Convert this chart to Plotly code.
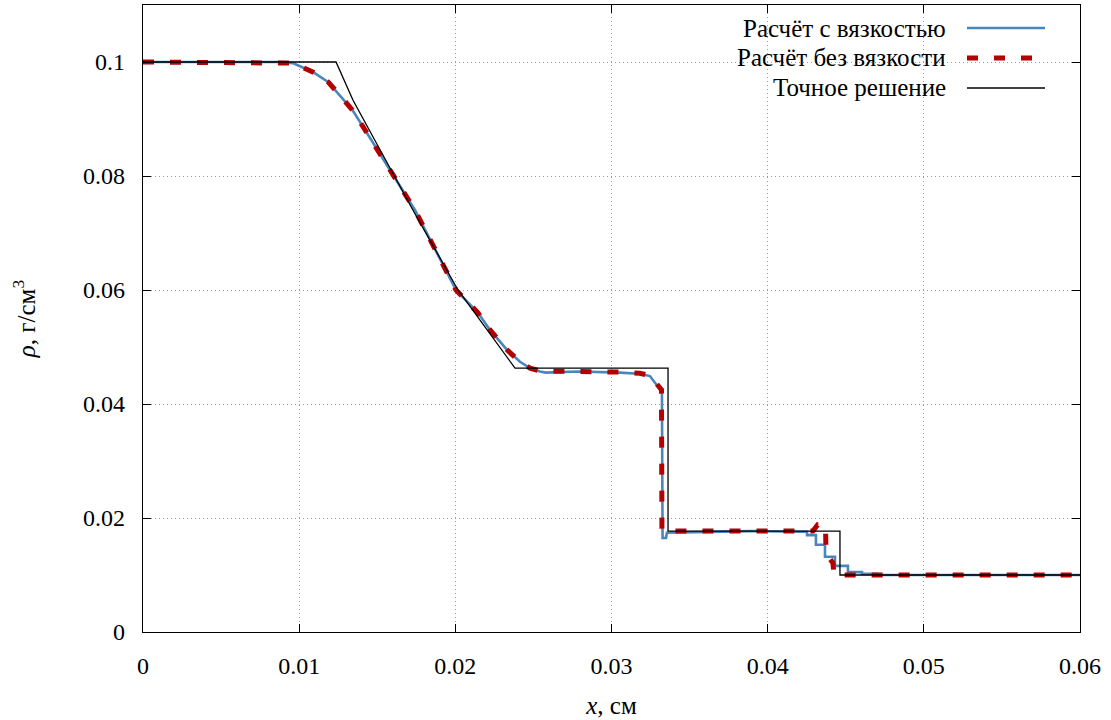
import plotly.graph_objects as go

# ---- data ----
x_visc = [0.0, 0.0089, 0.0096, 0.0109, 0.01185, 0.0126, 0.0134, 0.0141, 0.0149,
          0.01742, 0.02004, 0.02145, 0.02222, 0.02331, 0.02414, 0.02478, 0.02542,
          0.0258, 0.0265, 0.0280, 0.0305, 0.0318, 0.03246, 0.03291, 0.03323,
          0.03327, 0.03349, 0.03355, 0.0357, 0.0389, 0.0420,
          0.04252, 0.04252, 0.04309, 0.04309, 0.04367, 0.04367, 0.04431, 0.04431,
          0.04514, 0.04514, 0.04604, 0.04604, 0.0470, 0.0470, 0.0600]
rho_visc = [0.1000, 0.1000, 0.0998, 0.0982, 0.0965, 0.0942, 0.0916, 0.0886, 0.0851,
            0.0740, 0.0600, 0.0560, 0.0530, 0.0495, 0.0474, 0.0463, 0.0457,
            0.0455, 0.0456, 0.0457, 0.0455, 0.0453, 0.0449, 0.0433, 0.0421,
            0.0165, 0.0165, 0.0174, 0.0175, 0.0177, 0.0176,
            0.0176, 0.0170, 0.0170, 0.0153, 0.0153, 0.0132, 0.0132, 0.0116,
            0.0116, 0.0105, 0.0105, 0.0102, 0.0102, 0.0100, 0.0100]

x_invisc = [0.0, 0.0089, 0.0096, 0.0109, 0.01185, 0.0126, 0.0134, 0.0141, 0.0149,
            0.01742, 0.02004, 0.02145, 0.02222, 0.02331, 0.02414, 0.02478, 0.02542,
            0.0265, 0.0280, 0.0305, 0.0318, 0.03246, 0.03291, 0.03320,
            0.03323, 0.0336, 0.0389, 0.0420, 0.0429, 0.0432, 0.0437, 0.04373,
            0.0438, 0.04418, 0.04425, 0.0446, 0.0600]
rho_invisc = [0.1000, 0.1000, 0.0998, 0.0982, 0.0965, 0.0942, 0.0916, 0.0886, 0.0851,
              0.0740, 0.0600, 0.0560, 0.0530, 0.0495, 0.0474, 0.0463, 0.0458,
              0.0457, 0.0457, 0.0456, 0.0454, 0.0450, 0.0435, 0.0425,
              0.0177, 0.0177, 0.0177, 0.0177, 0.0177, 0.0188, 0.0188, 0.0150,
              0.0135, 0.0121, 0.0100, 0.0100, 0.0100]

x_exact = [0.0, 0.01236, 0.01345, 0.01729, 0.02017, 0.02158, 0.02382,
           0.03362, 0.03362, 0.04463, 0.04463, 0.0600]
rho_exact = [0.1000, 0.1000, 0.0933, 0.0740, 0.0600, 0.0547, 0.0463,
             0.0463, 0.0177, 0.0177, 0.0100, 0.0100]

names = ["Расчёт с вязкостью", "Расчёт без вязкости", "Точное решение"]

x_ticks = [0, 0.01, 0.02, 0.03, 0.04, 0.05, 0.06]
x_ticktext = ["0", "0.01", "0.02", "0.03", "0.04", "0.05", "0.06"]
y_ticks = [0, 0.02, 0.04, 0.06, 0.08, 0.1]
y_ticktext = ["0", "0.02", "0.04", "0.06", "0.08", "0.1"]

# ---- styles ----
BLUE = "#4a86bc"
RED = "#b30000"
BLACK = "#000000"
FONT = "Liberation Serif"
TICK_SIZE = 24
TEXT_SIZE = 25

fig = go.Figure()
fig.add_trace(go.Scatter(x=x_visc, y=rho_visc, mode="lines", name=names[0],
                         line=dict(color=BLUE, width=2.6), showlegend=False))
fig.add_trace(go.Scatter(x=x_invisc, y=rho_invisc, mode="lines", name=names[1],
                         line=dict(color=RED, width=5, dash="11px,16px"), showlegend=False))
fig.add_trace(go.Scatter(x=x_exact, y=rho_exact, mode="lines", name=names[2],
                         line=dict(color=BLACK, width=1.3), showlegend=False))

# gnuplot-style key: text right-aligned, sample to its right
W, H = 1111, 720
L, R, T, B = 143, 31, 5, 88
pw, ph = W - L - R, H - T - B
def px(xp): return (xp - L) / pw
def py(yp): return (H - B - yp) / ph

rows = [28, 58, 88]
styles = [dict(color=BLUE, width=2.6), dict(color=RED, width=5, dash="11px,16px"),
          dict(color=BLACK, width=1.3)]
for name, ry, st in zip(names, rows, styles):
    fig.add_annotation(x=px(948), y=py(ry), xref="paper", yref="paper", text=name,
                       showarrow=False, xanchor="right", yanchor="middle",
                       font=dict(family=FONT, size=TEXT_SIZE, color="black"))
    fig.add_shape(type="line", xref="paper", yref="paper",
                  x0=px(967), x1=px(1045), y0=py(ry), y1=py(ry), line=st)

axis_common = dict(showline=True, linecolor="black", linewidth=1.2, mirror="ticks",
                   ticks="inside", ticklen=8, tickwidth=1, tickcolor="black",
                   showgrid=True, gridcolor="#9a9a9a", gridwidth=1, griddash="1px,3px",
                   zeroline=False, tickfont=dict(family=FONT, size=TICK_SIZE, color="black"))

fig.update_xaxes(range=[0, 0.06], tickvals=x_ticks, ticktext=x_ticktext,
                 ticklabelstandoff=12,
                 title=dict(text="<i>x</i>, см", standoff=18,
                            font=dict(family=FONT, size=TEXT_SIZE, color="black")),
                 **axis_common)
fig.update_yaxes(range=[0, 0.11], tickvals=y_ticks, ticktext=y_ticktext,
                 ticklabelstandoff=12,
                 title=dict(text="<i>ρ</i>, г/см<sup>3</sup>", standoff=40,
                            font=dict(family=FONT, size=TEXT_SIZE, color="black")),
                 **axis_common)

fig.update_layout(width=W, height=H, margin=dict(l=L, r=R, t=T, b=B, autoexpand=False),
                  paper_bgcolor="white", plot_bgcolor="white",
                  font=dict(family=FONT, size=TEXT_SIZE, color="black"))

fig.write_html("out.html")
